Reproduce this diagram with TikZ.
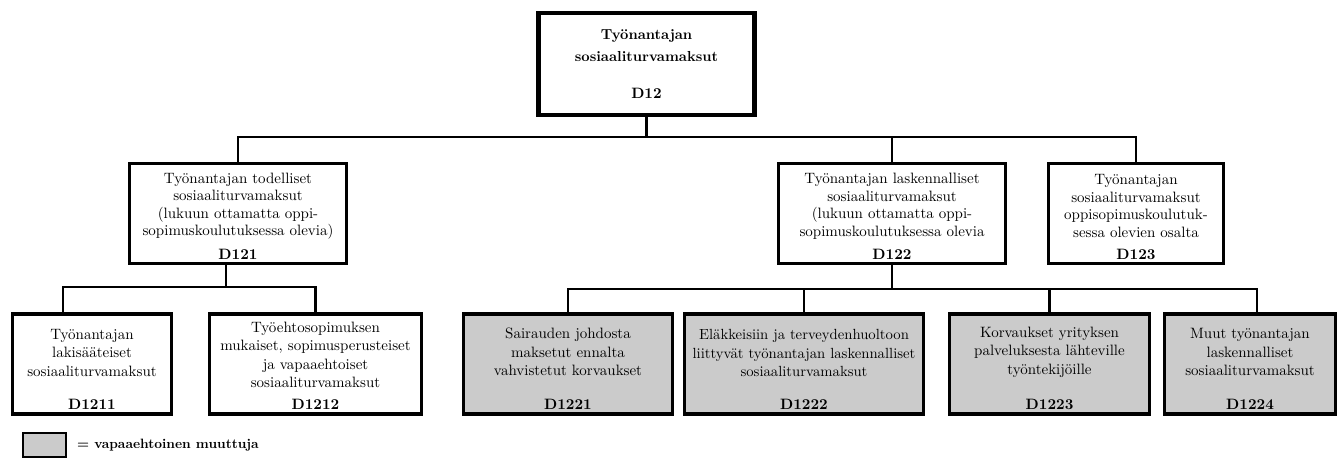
\documentclass[tikz,border=0pt]{standalone}
\usepackage{fontspec}
\setmainfont{lmroman10-regular}[Extension=.otf,BoldFont=lmroman10-bold]
\usepackage{tikz}
\definecolor{dnxam}{HTML}{CBCBCB}
\def\mauvien{black}
\def\maunen{dnxam}
\usetikzlibrary{positioning}

\begin{document}
\begin{tikzpicture}[x=1pt,y=-1pt,
	hop/.style={draw=\mauvien,line width=3.3pt,inner sep=0pt,minimum height=100pt},
	hopto/.style={hop,line width=4.5pt,minimum height=101.5pt},
	hoptuy/.style={hop,fill=\maunen},
	chu/.style={align=center,inner sep=0pt,font=\fontsize{15}{18.5}\selectfont},
	chutren/.style={chu,font=\fontsize{15}{17.5}\selectfont},
	ma/.style={inner sep=0pt,font=\fontsize{15}{18}\selectfont\bfseries},
	noi/.style={draw=\mauvien,line width=2.7pt}]
		\useasboundingbox (0,0) rectangle (1339,460);
		% tang 1
		\path (646.5,64) node[hopto,minimum width=216pt] (d12) {}
		(646.5,46) node[chu,font=\fontsize{14.5}{22}\selectfont\bfseries] (t12) {Työnantajan\\sosiaaliturvamaksut}
		(646.5,93) node[ma] (m12) {D12};
		% tang 2
		\path (238,213.5) node[hop,minimum width=217pt] (d121) {}
		(238,206) node[chutren] (t121) {Työnantajan todelliset\\sosiaaliturvamaksut\\(lukuun ottamatta oppi-\\sopimuskoulutuksessa olevia)}
		(238,254.5) node[ma] (m121) {D121}
		(892,213.5) node[hop,minimum width=227pt] (d122) {}
		(892,206) node[chutren] (t122) {Työnantajan laskennalliset\\sosiaaliturvamaksut\\(lukuun ottamatta oppi-\\sopimuskoulutuksessa olevia}
		(892,254.5) node[ma] (m122) {D122}
		(1136,213.5) node[hop,minimum width=175pt] (d123) {}
		(1136,206) node[chutren] (t123) {Työnantajan\\sosiaaliturvamaksut\\oppisopimuskoulutuk-\\sessa olevien osalta}
		(1136,254.5) node[ma] (m123) {D123};
		% tang 3
		\path (92,364) node[hop,minimum width=159pt] (d1211) {}
		(92,353) node[chu] (t1211) {Työnantajan\\lakisääteiset\\sosiaaliturvamaksut}
		(92,404) node[ma] (m1211) {D1211}
		(315.5,364) node[hop,minimum width=212pt] (d1212) {}
		(315.5,355) node[chu] (t1212) {Työehtosopimuksen\\mukaiset, sopimusperusteiset\\ja vapaaehtoiset\\sosiaaliturvamaksut}
		(315.5,404) node[ma] (m1212) {D1212}
		(568,364) node[hoptuy,minimum width=209pt] (d1221) {}
		(568,352) node[chu] (t1221) {Sairauden johdosta\\maksetut ennalta\\vahvistetut korvaukset}
		(568,404) node[ma] (m1221) {D1221}
		(804,364) node[hoptuy,minimum width=239pt] (d1222) {}
		(804,353) node[chu,font=\fontsize{14.7}{18.5}\selectfont] (t1222) {Eläkkeisiin ja terveydenhuoltoon\\liittyvät työnantajan laskennalliset\\sosiaaliturvamaksut}
		(804,404) node[ma] (m1222) {D1222}
		(1049.5,364) node[hoptuy,minimum width=200pt] (d1223) {}
		(1049.5,352) node[chu] (t1223) {Korvaukset yrityksen\\palveluksesta lähteville\\työntekijöille}
		(1049.5,404) node[ma] (m1223) {D1223}
		(1250,364) node[hoptuy,minimum width=171pt] (d1224) {}
		(1250,352) node[chu] (t1224) {Muut työnantajan\\laskennalliset\\sosiaaliturvamaksut}
		(1250,404) node[ma] (m1224) {D1224};
		% chu thich
		\path (44.5,445) node[hoptuy,line width=2pt,minimum width=43pt,minimum height=24pt] (leg) {};
		\node[right=10pt of leg,inner sep=0pt,font=\fontsize{13.5}{16}\selectfont\bfseries] (tleg) {= vapaaehtoinen muuttuja};
		% duong noi
		\coordinate (b1) at (0,137);
		\coordinate (b2) at (0,287);
		\coordinate (b3) at (0,289);
		\coordinate (s121) at ([xshift=-12pt]d121.south);
		\coordinate (s1211) at ([xshift=-29pt]d1211.north);
		\coordinate (s1224) at ([xshift=7pt]d1224.north);
		\draw[noi] (d12.south) -- (d12.south |- b1);
		\draw[noi] (d121.north) |- (b1 -| d123.north) -- (d123.north);
		\draw[noi] (d122.north) -- (d122.north |- b1);
		\draw[noi] (s121) -- (s121 |- b2);
		\draw[noi] (s1211) |- (b2 -| d1212.north) -- (d1212.north);
		\draw[noi] (d122.south) -- (d122.south |- b3);
		\draw[noi] (d1221.north) |- (b3 -| s1224) -- (s1224);
		\draw[noi] (d1222.north) -- (d1222.north |- b3);
		\draw[noi] (d1223.north) -- (d1223.north |- b3);
	\end{tikzpicture}
\end{document}
